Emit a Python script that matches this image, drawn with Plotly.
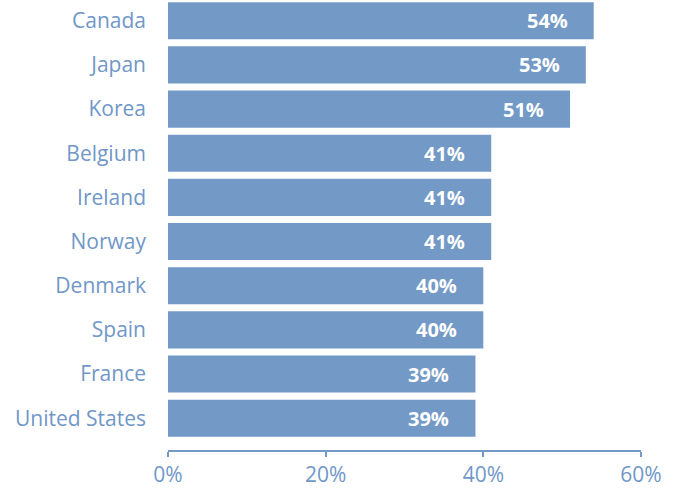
import plotly.graph_objects as go

# bottom to top
countries = ["United States", "France", "Spain", "Denmark", "Norway",
             "Ireland", "Belgium", "Korea", "Japan", "Canada"]
shares = [39, 39, 40, 40, 41, 41, 41, 51, 53, 54]
x_ticks = [0, 20, 40, 60]
x_tick_labels = ["0%", "20%", "40%", "60%"]

bar_color = "#7399C6"
text_color = "#7097C8"
font_name = "Open Sans"

fig = go.Figure()
fig.add_trace(go.Bar(
    x=shares,
    y=countries,
    orientation="h",
    marker=dict(color=bar_color, line=dict(width=0)),
    hoverinfo="skip",
))

for c, v in zip(countries, shares):
    fig.add_annotation(
        x=v, y=c, xref="x", yref="y",
        text="<b>%d%%</b>" % v,
        showarrow=False, xanchor="right", xshift=-24,
        font=dict(family=font_name, size=20, color="white"),
    )

fig.update_layout(
    width=681, height=488,
    margin=dict(l=168, r=40, t=0, b=32),
    plot_bgcolor="white", paper_bgcolor="white",
    bargap=0.16,
    showlegend=False,
    font=dict(family=font_name, size=21, color=text_color),
)
fig.update_xaxes(
    range=[0, 60],
    tickvals=x_ticks, ticktext=x_tick_labels,
    showgrid=False, zeroline=False,
    showline=True, linecolor=bar_color, linewidth=2,
    ticks="outside", ticklen=5, tickwidth=2, tickcolor=bar_color,
    tickfont=dict(family=font_name, size=21, color=text_color),
    ticklabelstandoff=0,
)
fig.update_yaxes(
    range=[-0.72, 9.47],
    showgrid=False, zeroline=False, showline=False,
    ticks="",
    tickfont=dict(family=font_name, size=21, color=text_color),
    ticklabelstandoff=21,
)

# page body has a default 8px margin; drop it so the figure fills the window
fig.write_html("out.html", config={"displayModeBar": False},
               post_script="document.body.style.margin='0';")
